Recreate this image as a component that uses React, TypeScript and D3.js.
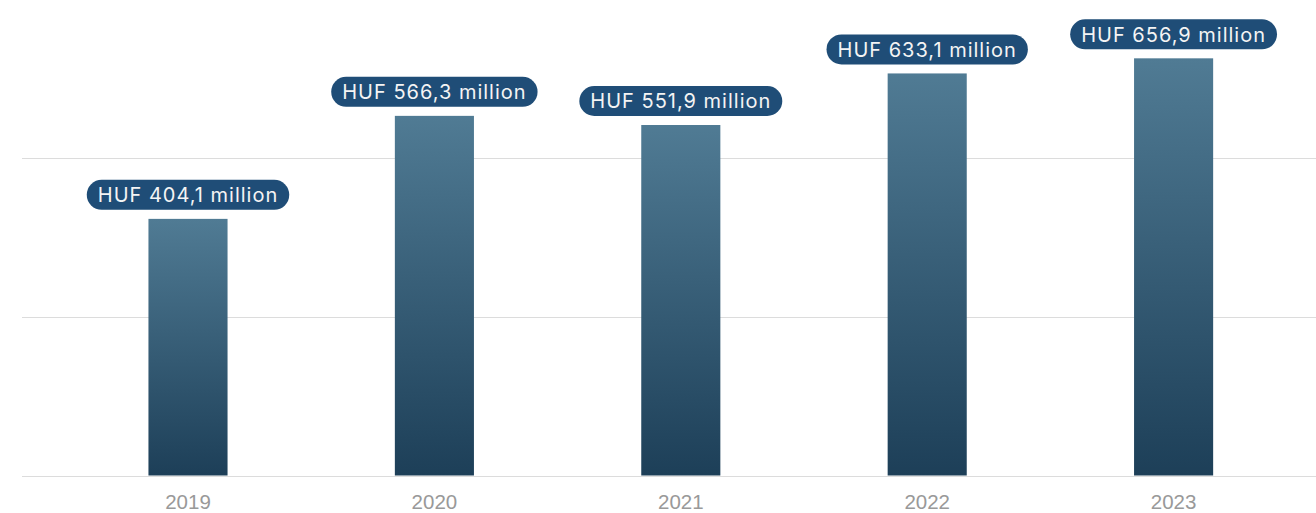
import React, { useEffect, useRef } from "react";
import * as d3 from "d3";

const years: string[] = ["2019", "2020", "2021", "2022", "2023"];
const values: number[] = [404.1, 566.3, 551.9, 633.1, 656.9];
const labels: string[] = [
  "HUF 404,1 million",
  "HUF 566,3 million",
  "HUF 551,9 million",
  "HUF 633,1 million",
  "HUF 656,9 million",
];
const gridTicks: number[] = [0, 250, 500, 750];

const W = 1316;
const H = 513;

export default function App() {
  const ref = useRef<SVGSVGElement | null>(null);

  useEffect(() => {
    document.body.style.margin = "0";
    const svg = d3.select(ref.current);
    svg.selectAll("*").remove();

    const x = d3
      .scaleBand<string>()
      .domain(years)
      .range([64.8, 1296.8])
      .paddingInner(0.679)
      .paddingOuter(0.3395);
    const y = d3.scaleLinear().domain([0, 750]).range([475.5, -0.8]);

    const defs = svg.append("defs");
    const grad = defs
      .append("linearGradient")
      .attr("id", "barGrad")
      .attr("x1", 0)
      .attr("y1", 0)
      .attr("x2", 0)
      .attr("y2", 1);
    grad.append("stop").attr("offset", "0%").attr("stop-color", "#507b94");
    grad.append("stop").attr("offset", "100%").attr("stop-color", "#1d3f58");

    // grid
    svg
      .append("g")
      .selectAll("line")
      .data(gridTicks)
      .join("line")
      .attr("x1", 22)
      .attr("x2", W)
      .attr("y1", (d) => Math.round(y(d)) + 0.5)
      .attr("y2", (d) => Math.round(y(d)) + 0.5)
      .attr("stroke", (d) => (d === 750 ? "#f2f2f2" : "#dcdcdc"))
      .attr("stroke-width", 1);

    // bars
    svg
      .append("g")
      .selectAll("rect")
      .data(values)
      .join("rect")
      .attr("x", (_, i) => x(years[i]) as number)
      .attr("width", x.bandwidth())
      .attr("y", (d) => y(d))
      .attr("height", (d) => y(0) - y(d))
      .attr("fill", "url(#barGrad)");

    // axis labels
    svg
      .append("g")
      .selectAll("text")
      .data(years)
      .join("text")
      .attr("x", (d) => (x(d) as number) + x.bandwidth() / 2)
      .attr("y", 509)
      .attr("text-anchor", "middle")
      .attr("font-family", "'Liberation Sans', Arial, sans-serif")
      .attr("font-size", 20.5)
      .attr("fill", "#999999")
      .text((d) => d);

    // value pills
    const pills = svg
      .append("g")
      .selectAll("g")
      .data(values)
      .join("g")
      .attr(
        "transform",
        (d, i) =>
          `translate(${(x(years[i]) as number) + x.bandwidth() / 2},${y(d) - 24})`
      );
    const rects = pills
      .append("rect")
      .attr("fill", "#1f4d77")
      .attr("height", 30)
      .attr("y", -15)
      .attr("rx", 15)
      .attr("ry", 15);
    const texts = pills
      .append("text")
      .attr("text-anchor", "middle")
      .attr("dy", "0.36em")
      .attr("font-family", "Inter, 'Liberation Sans', sans-serif")
      .attr("font-size", 20)
      .attr("letter-spacing", "1px")
      .attr("fill", "#f4f4f4")
      .text((_, i) => labels[i]);
    texts.each(function (_, i) {
      const w = (this as SVGTextElement).getComputedTextLength();
      const pw = w + 22;
      d3.select(rects.nodes()[i]).attr("x", -pw / 2).attr("width", pw);
    });
  }, []);

  return (
    <svg
      ref={ref}
      width={W}
      height={H}
      style={{ position: "absolute", left: 0, top: 0, background: "#fff" }}
    />
  );
}
